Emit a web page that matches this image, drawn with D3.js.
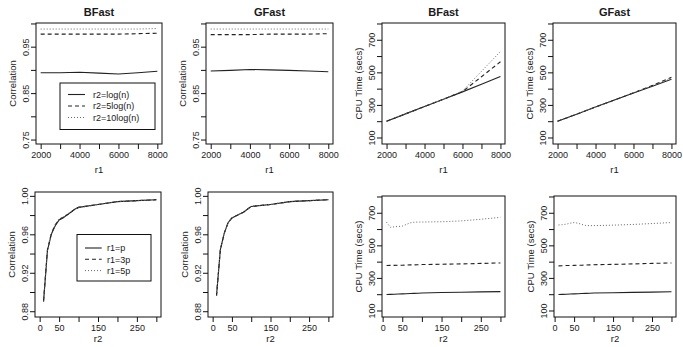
<!DOCTYPE html>
<html>
<head>
<meta charset="utf-8">
<script src="https://cdn.jsdelivr.net/npm/d3@7"></script>
<style>
  body { margin: 0; background: #fff; }
  text { font-family: "Liberation Sans", Arial, sans-serif; fill: #1a1a1a; }
</style>
</head>
<body>
<svg id="chart" width="683" height="347"></svg>
<script>
// x values
const r1Values = [2000, 3000, 4000, 5000, 6000, 7000, 8000];
const r2Values = [10, 20, 30, 40, 50, 60, 70, 80, 90, 100, 150, 200, 250, 300];

// correlation vs r1 (r2 = log(n), 5log(n), 10log(n))
const bfastCorrR1 = [
  [0.894, 0.894, 0.895, 0.893, 0.891, 0.894, 0.897],
  [0.977, 0.977, 0.977, 0.977, 0.977, 0.978, 0.979],
  [0.988, 0.988, 0.988, 0.988, 0.988, 0.988, 0.989]
];
const gfastCorrR1 = [
  [0.8975, 0.899, 0.901, 0.900, 0.899, 0.8975, 0.896],
  [0.976, 0.976, 0.976, 0.977, 0.977, 0.977, 0.978],
  [0.988, 0.988, 0.988, 0.988, 0.988, 0.988, 0.988]
];

// cpu time vs r1
const bfastCpuR1 = [
  [200, 245, 290, 335, 380, 427, 474],
  [200, 245, 290, 335, 382, 473, 565],
  [200, 245, 290, 335, 385, 506, 628]
];
const gfastCpuR1 = [
  [200, 243, 287, 330, 373, 415, 458],
  [200, 243, 287, 330, 374, 420, 470],
  [200, 244, 288, 331, 375, 418, 462]
];

// correlation vs r2 (r1 = p, 3p, 5p)
const bfastCorrR2 = [
  [0.890, 0.943, 0.960, 0.969, 0.975, 0.977, 0.980, 0.983, 0.986, 0.988, 0.991, 0.994, 0.995, 0.996],
  [0.891, 0.944, 0.961, 0.970, 0.975, 0.978, 0.980, 0.983, 0.986, 0.988, 0.991, 0.994, 0.995, 0.996],
  [0.890, 0.943, 0.961, 0.970, 0.976, 0.978, 0.981, 0.983, 0.986, 0.988, 0.991, 0.994, 0.995, 0.996]
];
const gfastCorrR2 = [
  [0.896, 0.944, 0.961, 0.972, 0.977, 0.979, 0.981, 0.983, 0.986, 0.989, 0.991, 0.994, 0.995, 0.996],
  [0.896, 0.944, 0.961, 0.972, 0.977, 0.979, 0.981, 0.983, 0.986, 0.989, 0.991, 0.994, 0.995, 0.996],
  [0.896, 0.944, 0.961, 0.972, 0.977, 0.979, 0.981, 0.983, 0.986, 0.989, 0.991, 0.994, 0.995, 0.996]
];

// cpu time vs r2
const bfastCpuR2 = [
  [198, 199, 200, 201, 202, 203, 204, 205, 206, 207, 210, 212, 214, 216],
  [376, 377, 377, 378, 378, 379, 380, 380, 381, 382, 384, 386, 389, 392],
  [642, 611, 614, 616, 618, 628, 638, 642, 643, 643, 645, 650, 660, 672]
];
const gfastCpuR2 = [
  [198, 199, 200, 201, 202, 203, 204, 205, 206, 207, 209, 211, 213, 215],
  [374, 375, 376, 376, 377, 378, 378, 379, 380, 381, 383, 386, 389, 392],
  [625, 627, 630, 636, 640, 636, 628, 622, 621, 621, 624, 628, 634, 640]
];

// ticks and labels
const r1Ticks = [2000, 3000, 4000, 5000, 6000, 7000, 8000];
const r1TickLabels = [2000, 4000, 6000, 8000];
const r2Ticks = [0, 50, 100, 150, 200, 250, 300];
const r2TickLabels = [0, 50, 150, 250];
const corrTopTicks = [0.75, 0.80, 0.85, 0.90, 0.95, 1.00];
const corrTopLabels = [0.75, 0.85, 0.95];
const corrBotTicks = [0.88, 0.90, 0.92, 0.94, 0.96, 0.98, 1.00];
const corrBotLabels = [0.88, 0.92, 0.96, 1.00];
const cpuTicks = [100, 200, 300, 400, 500, 600, 700, 800];
const cpuTickLabels = [100, 300, 500, 700];

const legendR1 = ["r2=log(n)", "r2=5log(n)", "r2=10log(n)"];
const legendR2 = ["r1=p", "r1=3p", "r1=5p"];

const lineStyles = [
  { color: "#222", width: 1.1, dash: null },
  { color: "#222", width: 1.1, dash: "4,3" },
  { color: "#666", width: 1, dash: "1,2" }
];

const svg = d3.select("#chart");

const panels = [
  { title: "BFast", box: [36, 162, 23, 144], xs: r1Values, series: bfastCorrR1,
    xDomain: [1760, 8240], yDomain: [0.7404, 1.001], xTicks: r1Ticks, xLabels: r1TickLabels,
    yTicks: corrTopTicks, yLabels: corrTopLabels, fmt: d3.format(".2f"), xTitle: "r1", yTitle: "Correlation",
    legend: { labels: legendR1, box: [60, 155, 83, 129.5], rows: [94.5, 106, 117.5], lx: [68, 85], tx: 93 } },
  { title: "GFast", box: [206, 333, 23, 144], xs: r1Values, series: gfastCorrR1,
    xDomain: [1760, 8240], yDomain: [0.7404, 1.001], xTicks: r1Ticks, xLabels: r1TickLabels,
    yTicks: corrTopTicks, yLabels: corrTopLabels, fmt: d3.format(".2f"), xTitle: "r1", yTitle: "Correlation" },
  { title: "BFast", box: [382, 505, 23, 144], xs: r1Values, series: bfastCpuR1,
    xDomain: [1760, 8240], yDomain: [60, 803], xTicks: r1Ticks, xLabels: r1TickLabels,
    yTicks: cpuTicks, yLabels: cpuTickLabels, fmt: d3.format("d"), xTitle: "r1", yTitle: "CPU Time (secs)" },
  { title: "GFast", box: [553, 676, 23, 144], xs: r1Values, series: gfastCpuR1,
    xDomain: [1760, 8240], yDomain: [60, 803], xTicks: r1Ticks, xLabels: r1TickLabels,
    yTicks: cpuTicks, yLabels: cpuTickLabels, fmt: d3.format("d"), xTitle: "r1", yTitle: "CPU Time (secs)" },
  { box: [35, 161, 192, 317], xs: r2Values, series: bfastCorrR2,
    xDomain: [-12, 312], yDomain: [0.874, 1.004], xTicks: r2Ticks, xLabels: r2TickLabels,
    yTicks: corrBotTicks, yLabels: corrBotLabels, fmt: d3.format(".2f"), xTitle: "r2", yTitle: "Correlation",
    legend: { labels: legendR2, box: [77, 151, 234.5, 281], rows: [248, 259.3, 270.6], lx: [85, 101.7], tx: 107 } },
  { box: [208, 333, 192, 317], xs: r2Values, series: gfastCorrR2,
    xDomain: [-12, 312], yDomain: [0.874, 1.004], xTicks: r2Ticks, xLabels: r2TickLabels,
    yTicks: corrBotTicks, yLabels: corrBotLabels, fmt: d3.format(".2f"), xTitle: "r2", yTitle: "Correlation" },
  { box: [382, 505, 196, 317], xs: r2Values, series: bfastCpuR2,
    xDomain: [-1.6, 311.6], yDomain: [60, 803], xTicks: r2Ticks, xLabels: r2TickLabels,
    yTicks: cpuTicks, yLabels: cpuTickLabels, fmt: d3.format("d"), xTitle: "r2", yTitle: "CPU Time (secs)" },
  { box: [554, 676, 196, 317], xs: r2Values, series: gfastCpuR2,
    xDomain: [-1.6, 311.6], yDomain: [60, 803], xTicks: r2Ticks, xLabels: r2TickLabels,
    yTicks: cpuTicks, yLabels: cpuTickLabels, fmt: d3.format("d"), xTitle: "r2", yTitle: "CPU Time (secs)" }
];

function drawPanel(p) {
  const [x0, x1, y0, y1] = p.box;
  const x = d3.scaleLinear().domain(p.xDomain).range([x0, x1]);
  const y = d3.scaleLinear().domain(p.yDomain).range([y1, y0]);
  const g = svg.append("g");

  const line = d3.line().x(d => x(d[0])).y(d => y(d[1]));
  p.series.forEach((vals, i) => {
    const st = lineStyles[i];
    g.append("path")
      .datum(vals.map((v, j) => [p.xs[j], v]))
      .attr("d", line)
      .attr("fill", "none")
      .attr("stroke", st.color)
      .attr("stroke-width", st.width)
      .attr("stroke-dasharray", st.dash);
  });

  g.append("rect")
    .attr("x", x0).attr("y", y0)
    .attr("width", x1 - x0).attr("height", y1 - y0)
    .attr("fill", "none").attr("stroke", "#111").attr("stroke-width", 1);

  // x axis
  const xa = g.append("g")
    .attr("transform", `translate(0,${y1})`)
    .call(d3.axisBottom(x).tickValues(p.xTicks).tickSize(5).tickPadding(3)
      .tickFormat(d => p.xLabels.includes(d) ? d : ""));
  xa.select(".domain").remove();
  xa.selectAll("line").attr("stroke", "#111");
  xa.selectAll("text").attr("font-size", 9).attr("font-family", null).attr("fill", "#1a1a1a");

  // y axis, labels parallel to the axis
  const ya = g.append("g")
    .attr("transform", `translate(${x0},0)`)
    .call(d3.axisLeft(y).tickValues(p.yTicks).tickSize(5)
      .tickFormat(d => p.yLabels.some(v => Math.abs(v - d) < 1e-9) ? p.fmt(d) : ""));
  ya.select(".domain").remove();
  ya.selectAll("line").attr("stroke", "#111");
  ya.selectAll("text")
    .attr("font-size", 9).attr("font-family", null).attr("fill", "#1a1a1a")
    .attr("transform", "rotate(-90)")
    .attr("x", 0).attr("y", -7).attr("dy", null)
    .attr("text-anchor", "middle");

  if (p.title) {
    g.append("text")
      .attr("x", (x0 + x1) / 2).attr("y", 15.5)
      .attr("text-anchor", "middle")
      .attr("font-size", 11).attr("font-weight", "bold")
      .text(p.title);
  }

  // bottom row sits close to the page edge
  const titleGap = y1 > 300 ? 25 : 29;
  g.append("text")
    .attr("x", (x0 + x1) / 2).attr("y", y1 + titleGap)
    .attr("text-anchor", "middle").attr("font-size", 9.5)
    .text(p.xTitle);

  g.append("text")
    .attr("transform", `translate(${x0 - 20},${(y0 + y1) / 2}) rotate(-90)`)
    .attr("text-anchor", "middle").attr("font-size", 9.5)
    .text(p.yTitle);

  if (p.legend) {
    const L = p.legend;
    g.append("rect")
      .attr("x", L.box[0]).attr("y", L.box[2])
      .attr("width", L.box[1] - L.box[0]).attr("height", L.box[3] - L.box[2])
      .attr("fill", "#fff").attr("stroke", "#111");
    L.labels.forEach((lab, i) => {
      const st = lineStyles[i];
      g.append("line")
        .attr("x1", L.lx[0]).attr("x2", L.lx[1])
        .attr("y1", L.rows[i]).attr("y2", L.rows[i])
        .attr("stroke", st.color).attr("stroke-width", st.width)
        .attr("stroke-dasharray", st.dash);
      g.append("text")
        .attr("x", L.tx).attr("y", L.rows[i] + 3.2)
        .attr("font-size", 9)
        .text(lab);
    });
  }
}

panels.forEach(drawPanel);
</script>
</body>
</html>
